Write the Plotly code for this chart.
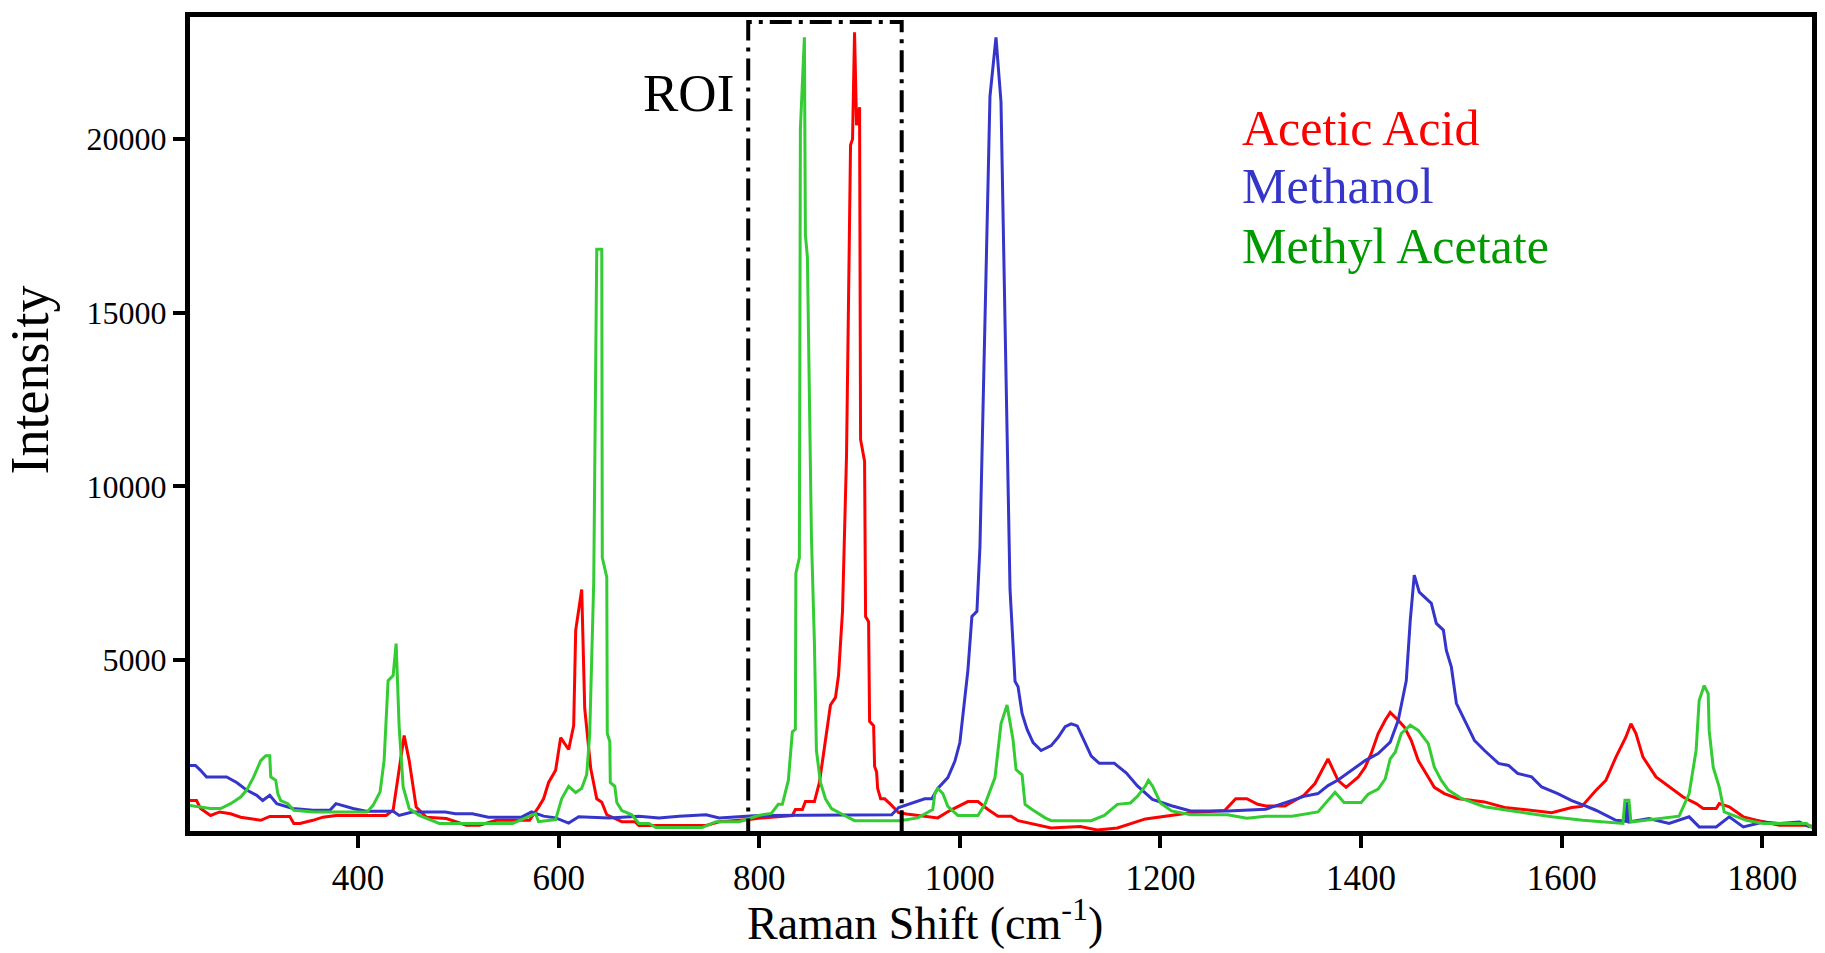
import plotly.graph_objects as go

# ---------------- data ----------------
acetic_x = [231, 239, 243, 253, 262, 273, 283, 303, 312, 332, 336, 342, 355, 365, 378, 428, 435, 440, 446, 451,
            458, 468, 488, 508, 521, 538, 571, 580, 585, 590, 597, 602, 610, 615, 617, 623, 626, 632, 638, 643,
            648, 663, 676, 680, 747, 760, 790, 799, 833, 836, 843, 846, 855, 860, 866, 871, 876, 879, 883, 887,
            891, 893, 895, 897, 900, 901, 905, 906, 909, 910, 914, 915, 917, 918, 921, 925, 931, 939, 947, 960,
            978, 990, 998, 1008, 1018, 1028, 1038, 1051, 1058, 1075, 1091, 1120, 1137, 1157, 1185, 1230, 1264,
            1275, 1286, 1297, 1305, 1324, 1343, 1354, 1367, 1377, 1385, 1397, 1404, 1410, 1417, 1424, 1429, 1437,
            1443, 1450, 1457, 1467, 1473, 1483, 1496, 1523, 1543, 1590, 1610, 1620, 1634, 1644, 1654, 1664, 1669,
            1674, 1681, 1694, 1707, 1721, 1734, 1741, 1754, 1757, 1767, 1781, 1794, 1817, 1844, 1852]
acetic_y = [950, 950, 720, 520, 620, 570, 470, 380, 490, 490, 290, 290, 380, 470, 520, 520, 670, 1630, 2820, 2100,
            760, 470, 430, 240, 240, 380, 380, 760, 1000, 1470, 1820, 2760, 2420, 3110, 5850, 7030, 3600, 1870, 1000, 900,
            540, 340, 340, 230, 230, 340, 400, 440, 520, 690, 690, 920, 920, 1470, 2690, 3700, 3920, 4550, 6400, 10890,
            19830, 20000, 23080, 20400, 20920, 11350, 10720, 6250, 6100, 3230, 3100, 1930, 1770, 1300, 1000, 1000, 840, 600, 560, 520,
            450, 660, 780, 920, 920, 690, 500, 500, 370, 260, 160, 200, 100, 160, 420, 600, 660,
            1000, 1000, 840, 790, 790, 1100, 1440, 2150, 1530, 1330, 1620, 1910, 2300, 2880, 3260, 3490, 3260,
            3070, 2680, 2100, 1620, 1330, 1150, 1010, 910, 750, 600, 750, 780, 1240, 1530, 2200, 2780, 3160,
            2880, 2200, 1630, 1340, 1050, 860, 720, 720, 860, 770, 480, 380, 240, 240, 190]

methanol_x = [231, 238, 243, 249, 269, 279, 289, 299, 305, 312, 319, 335, 355, 372, 378, 395, 408, 435, 441, 454,
              487, 497, 514, 530, 563, 573, 585, 597, 610, 620, 650, 680, 700, 720, 747, 760, 799, 900, 932, 939,
              955, 965, 972, 978, 988, 995, 1000, 1003, 1008, 1012, 1017, 1020, 1025, 1030, 1036, 1041, 1045, 1050,
              1055, 1058, 1062, 1067, 1073, 1081, 1091, 1098, 1105, 1111, 1117, 1121, 1131, 1139, 1154, 1166, 1177,
              1192, 1211, 1230, 1267, 1305, 1324, 1343, 1357, 1367, 1377, 1390, 1404, 1417, 1429, 1437, 1445, 1449,
              1453, 1458, 1470, 1475, 1482, 1485, 1490, 1495, 1500, 1507, 1513, 1523, 1537, 1547, 1556, 1570, 1580,
              1596, 1610, 1623, 1634, 1654, 1664, 1665, 1667, 1687, 1707, 1727, 1737, 1754, 1767, 1781, 1801, 1817,
              1837, 1847]
methanol_y = [1960, 1960, 1820, 1630, 1630, 1470, 1250, 1100, 950, 1100, 860, 720, 670, 670, 860, 720, 640, 640, 520, 620,
              620, 570, 570, 470, 470, 620, 500, 450, 300, 480, 450, 500, 450, 500, 540, 450, 520, 520, 540, 750,
              900, 1000, 1000, 1300, 1610, 2080, 2620, 3460, 4700, 6250, 6400, 8250, 14740, 21230, 22930, 21070, 14740, 7030,
              4380, 4230, 3460, 3000, 2620, 2390, 2530, 2770, 3080, 3160, 3100, 2850, 2230, 2020, 2020, 1740, 1370,
              980, 800, 650, 650, 700, 880, 1070, 1150, 1380, 1540, 1820, 2100, 2300, 2630, 3260, 4400, 6140,
              7440, 6950, 6630, 6050, 5860, 5270, 4790, 3750, 3460, 3070, 2680, 2390, 2020, 1960, 1730, 1630, 1340,
              1150, 950, 800, 670, 380, 350, 900, 330, 430, 290, 480, 190, 190, 480, 190, 330, 290,
              330, 190]

methyl_acetate_x = [231, 243, 253, 263, 273, 283, 289, 296, 303, 308, 312, 313, 318, 320, 323, 330, 336, 356, 389, 409,
                    415, 422, 426, 430, 435, 438, 441, 445, 451, 461, 481, 554, 577, 580, 597, 603, 610, 617, 623, 628,
                    631, 635, 638, 643, 643.5, 648, 648.5, 651, 651.5, 656, 658, 663, 673, 680, 690, 697, 743, 757, 780,
                    799, 812, 819, 823, 826, 829, 833, 836, 836.5, 840, 841, 845, 846, 848, 852, 855, 857, 861, 866,
                    872, 885, 895, 940, 958, 973, 975, 978, 983, 988, 998, 1018, 1025, 1035, 1041, 1047, 1053, 1056,
                    1062, 1065, 1072, 1085, 1091, 1131, 1144, 1157, 1170, 1177, 1185, 1188, 1192, 1200, 1211, 1230,
                    1267, 1286, 1305, 1331, 1357, 1374, 1383, 1400, 1407, 1417, 1424, 1429, 1434, 1440, 1449, 1457,
                    1467, 1473, 1480, 1487, 1500, 1523, 1556, 1590, 1621, 1647, 1661, 1663, 1667, 1669, 1701, 1717,
                    1727, 1734, 1737, 1742, 1746, 1747, 1751, 1757, 1762, 1784, 1801, 1844, 1851, 1855]
methyl_acetate_y = [810, 760, 720, 720, 860, 1050, 1250, 1630, 2100, 2240, 2240, 1630, 1530, 1150, 950, 860, 670, 620, 620, 620,
                    810, 1200, 2100, 4400, 4550, 5470, 3080, 1340, 720, 520, 290, 290, 570, 340, 400, 1000, 1360, 1180, 1300, 1700,
                    2880, 7260, 16830, 16830, 7950, 7380, 2880, 2650, 1470, 1360, 890, 660, 540, 290, 290, 170, 170, 340, 340,
                    520, 580, 840, 840, 1150, 1530, 2930, 3000, 7490, 7950, 20290, 22930, 17250, 16600, 8560, 5480, 2390, 1470, 1000,
                    720, 520, 370, 370, 450, 690, 1150, 1300, 1150, 780, 520, 520, 840, 1610, 3160, 3700, 2700, 1840,
                    1690, 840, 690, 450, 370, 370, 520, 840, 880, 1070, 1370, 1530, 1370, 880, 650, 540,
                    540, 440, 500, 500, 620, 1190, 890, 890, 1130, 1280, 1570, 2150, 2340, 2880, 3120, 2970,
                    2590, 1910, 1530, 1250, 1010, 770, 620, 480, 380, 330, 290, 960, 960, 330, 430, 500,
                    1140, 2400, 3830, 4260, 4030, 2970, 1910, 1340, 620, 380, 290, 290, 140, 290]

series_names = ["Acetic Acid", "Methanol", "Methyl Acetate"]
line_colors = ["#FF0000", "#3535CC", "#33CC33"]
label_colors = ["#FF0000", "#3535CC", "#009900"]

x_ticks = [400, 600, 800, 1000, 1200, 1400, 1600, 1800]
y_ticks = [0, 5000, 10000, 15000, 20000]
x_range = [232.5, 1849.5]
y_range = [72, 23517]
roi_x = [789, 942]
roi_y = [-150, 23370]

# ---------------- figure ----------------
W, H = 1825, 953
L, R, T, B = 190, 8, 17, 122
PW, PH = W - L - R, H - T - B


def px(x):
    return (x - L) / PW


def py(y):
    return (H - B - y) / PH


FONT = "Liberation Serif, Times New Roman, serif"

fig = go.Figure()
for xs, ys, name, col in [(acetic_x, acetic_y, series_names[0], line_colors[0]),
                          (methanol_x, methanol_y, series_names[1], line_colors[1]),
                          (methyl_acetate_x, methyl_acetate_y, series_names[2], line_colors[2])]:
    fig.add_trace(go.Scatter(x=xs, y=ys, mode="lines", name=name,
                             line=dict(color=col, width=3), showlegend=False))

fig.add_shape(type="rect", xref="x", yref="y",
              x0=roi_x[0], x1=roi_x[1], y0=roi_y[0], y1=roi_y[1],
              line=dict(color="black", width=4, dash="22px,7px,4px,7px"))

annotations = [
    dict(text=series_names[0], x=px(1243), y=py(128.5), color=label_colors[0]),
    dict(text=series_names[1], x=px(1243), y=py(186), color=label_colors[1]),
    dict(text=series_names[2], x=px(1243), y=py(246), color=label_colors[2]),
]
for a in annotations:
    fig.add_annotation(text=a["text"], x=a["x"], y=a["y"], xref="paper", yref="paper",
                       xanchor="left", yanchor="middle", showarrow=False,
                       font=dict(family=FONT, size=50, color=a["color"]))

fig.add_annotation(text="ROI", x=px(738), y=py(92.5), xref="paper", yref="paper",
                   xanchor="right", yanchor="middle", showarrow=False,
                   font=dict(family=FONT, size=53, color="black"))
fig.add_annotation(text="Raman Shift (cm<sup>-1</sup>)", x=px(927), y=py(951), xref="paper", yref="paper",
                   xanchor="center", yanchor="bottom", showarrow=False,
                   font=dict(family=FONT, size=46, color="black"))
fig.add_annotation(text="Intensity", x=px(30), y=py(380), xref="paper", yref="paper",
                   xanchor="center", yanchor="middle", showarrow=False, textangle=-90,
                   font=dict(family=FONT, size=54, color="black"))

fig.update_layout(
    width=W, height=H,
    margin=dict(l=L, r=R, t=T, b=B, pad=0),
    paper_bgcolor="white", plot_bgcolor="white",
    font=dict(family=FONT, color="black"),
)
fig.update_xaxes(range=x_range, tickmode="array", tickvals=x_ticks,
                 ticktext=[str(v) for v in x_ticks],
                 showline=True, mirror=True, linewidth=5, linecolor="black",
                 ticks="outside", ticklen=12, tickwidth=4, tickcolor="black",
                 showgrid=False, zeroline=False,
                 tickfont=dict(family=FONT, size=35, color="black"))
fig.update_yaxes(range=y_range, tickmode="array", tickvals=y_ticks,
                 ticktext=[str(v) for v in y_ticks],
                 showline=True, mirror=True, linewidth=5, linecolor="black",
                 ticks="outside", ticklen=12, tickwidth=4, tickcolor="black",
                 showgrid=False, zeroline=False,
                 tickfont=dict(family=FONT, size=32, color="black"))

fig.write_html("out.html")
